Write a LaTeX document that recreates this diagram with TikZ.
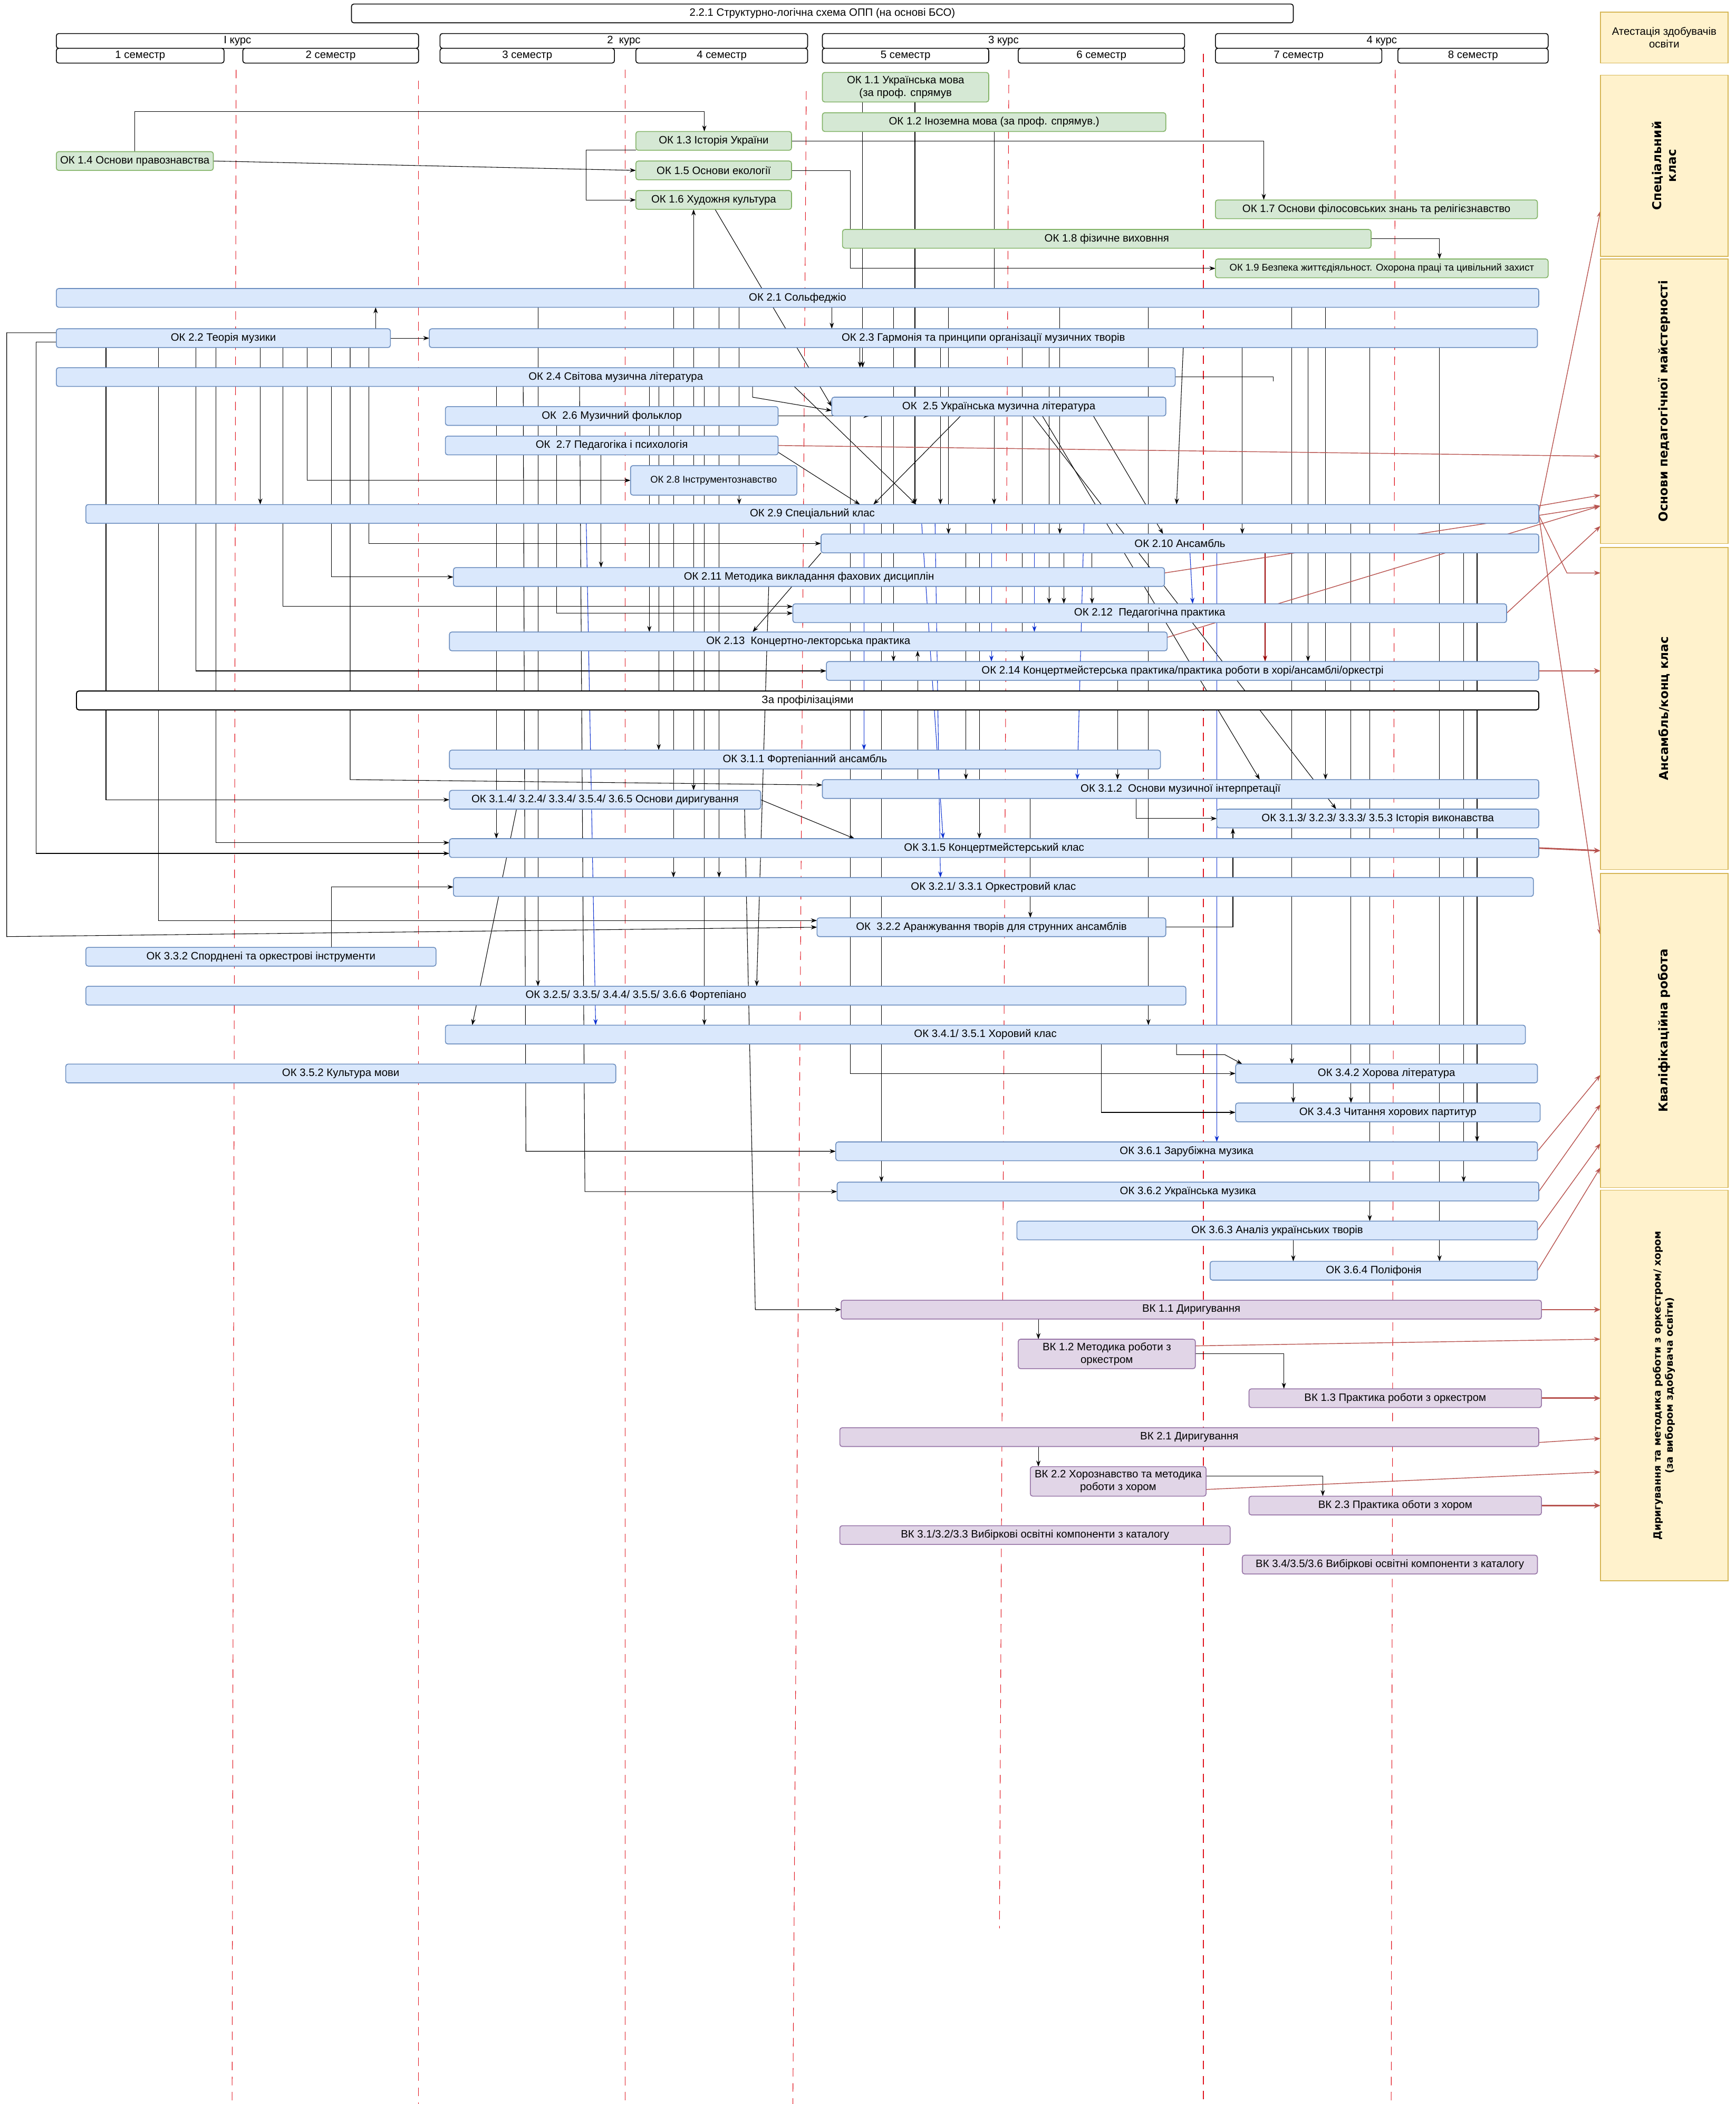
\documentclass[tikz,border=0pt]{standalone}
\usepackage{fontspec}
\setmainfont{Liberation Sans}
\newfontfamily\panelfont{DejaVu Sans}
\usetikzlibrary{arrows.meta,calc}
\definecolor{gfill}{HTML}{D5E8D4}
\definecolor{gdraw}{HTML}{82B366}
\definecolor{bfill}{HTML}{DAE8FC}
\definecolor{bdraw}{HTML}{6C8EBF}
\definecolor{pfill}{HTML}{E1D5E7}
\definecolor{pdraw}{HTML}{9673A6}
\definecolor{yfill}{HTML}{FFF2CC}
\definecolor{ydraw}{HTML}{D6B656}
\definecolor{rline}{HTML}{B85450}
\definecolor{bline}{HTML}{0A2FD0}
\definecolor{drline}{HTML}{990000}
\definecolor{dashred}{HTML}{E0141E}
\pgfdeclarelayer{bg}
\pgfsetlayers{bg,main}
\tikzset{
 nbase/.style={inner sep=0pt, outer sep=0pt, align=center, rounded corners=2.5pt, line width=0.9pt, font=\fontsize{11.4}{13.5}\selectfont},
 hdr/.style={nbase, draw=black, fill=white},
 gbox/.style={nbase, draw=gdraw, fill=gfill},
 bbox/.style={nbase, draw=bdraw, fill=bfill},
 pbox/.style={nbase, draw=pdraw, fill=pfill},
 ybox/.style={nbase, draw=ydraw, fill=yfill, rounded corners=0pt},
 small/.style={font=\fontsize{10.3}{12}\selectfont},
 conn/.style={draw=black, line width=0.6pt, -{Stealth[length=6.5pt,width=4.5pt]}},
 pline/.style={draw=black, line width=0.6pt},
 bconn/.style={draw=bline, line width=0.6pt, -{Stealth[length=6.5pt,width=4.5pt]}},
 drconn/.style={draw=drline, line width=0.7pt, -{Stealth[length=6.5pt,width=4.5pt]}},
 rconn/.style={draw=rline, line width=0.8pt, -{Stealth[length=7pt,width=5pt]}},
 rconnT/.style={draw=rline, line width=1.6pt, -{Stealth[length=7pt,width=6pt]}},
 vdash/.style={draw=dashred, line width=0.6pt, dash pattern=on 9pt off 7pt},
 ptext/.style={rotate=90, align=center, font=\panelfont\bfseries\fontsize{12.9}{15.5}\selectfont},
}
\newcommand\Bx[7]{\node[#1, anchor=north west, minimum width={(#5-#3)*0.05cm}, minimum height={(#6-#4)*0.05cm}] (#2) at (#3,#4) {#7};}
\newcommand\Q[1]{\coordinate (q#1) at (#1,0);}
\newcommand\VV[4][conn]{\coordinate (q#2) at (#2,0); \draw[#1] (#3.south -| q#2) -- (#4.north -| q#2);}
\begin{document}
\begin{tikzpicture}[x=0.05cm,y=-0.05cm]
\useasboundingbox (0,0) rectangle (1294,1568);
% ---------- headers
\Bx{hdr}{title}{262}{3}{964}{17}{2.2.1 Структурно-логічна схема ОПП (на основі БСО)}
\Bx{hdr}{k1}{42}{25}{312}{36}{І курс}
\Bx{hdr}{s1}{42}{36}{167}{47}{1 семестр}
\Bx{hdr}{s2}{181}{36}{312}{47}{2 семестр}
\Bx{hdr}{k2}{328}{25}{602}{36}{2~ курс}
\Bx{hdr}{s3}{328}{36}{458}{47}{3 семестр}
\Bx{hdr}{s4}{474}{36}{602}{47}{4 семестр}
\Bx{hdr}{k3}{613}{25}{883}{36}{3 курс}
\Bx{hdr}{s5}{613}{36}{737}{47}{5 семестр}
\Bx{hdr}{s6}{759}{36}{883}{47}{6 семестр}
\Bx{hdr}{k4}{906}{25}{1154}{36}{4 курс}
\Bx{hdr}{s7}{906}{36}{1030}{47}{7 семестр}
\Bx{hdr}{s8}{1042}{36}{1154}{47}{8 семестр}
\Bx{ybox}{att}{1193}{9}{1288}{47}{Атестація здобувачів\\освіти}
% ---------- right panel
\Bx{ybox}{r1}{1193}{56}{1288}{191}{}
\Bx{ybox}{r2}{1193}{193}{1288}{405}{}
\Bx{ybox}{r3}{1193}{408}{1288}{648}{}
\Bx{ybox}{r4}{1193}{651}{1288}{885}{}
\Bx{ybox}{r5}{1193}{887}{1288}{1178}{}
\node[ptext] (t1) at (r1.center) {Спеціальний\\клас};
\node[ptext] (t2) at (r2.center) {Основи педагогічної майстерності};
\node[ptext] (t3) at (r3.center) {Ансамбль/конц клас};
\node[ptext] (t4) at (r4.center) {Кваліфікаційна робота};
\node[ptext, font=\panelfont\bfseries\fontsize{10.5}{13}\selectfont] (t5) at (r5.center) {Диригування та методика роботи з оркестром/ хором\\(за вибором здобувача освіти)};
% ---------- green
\Bx{gbox}{n11}{613}{54}{737}{76}{ОК 1.1 Українська мова\\(за проф. спрямув}
\Bx{gbox}{n12}{613}{84}{869}{98}{ОК 1.2 Іноземна мова (за проф. спрямув.)}
\Bx{gbox}{n13}{474}{98}{590}{112}{ОК 1.3 Історія України}
\Bx{gbox}{n14}{42}{113}{159}{127}{ОК 1.4 Основи правознавства}
\Bx{gbox}{n15}{474}{120}{590}{134}{ОК 1.5 Основи екології}
\Bx{gbox}{n16}{474}{142}{590}{156}{ОК 1.6 Художня культура}
\Bx{gbox}{n17}{906}{149}{1146}{163}{ОК 1.7 Основи філосовських знань та релігієзнавство}
\Bx{gbox}{n18}{628}{171}{1022}{185}{ОК 1.8 фізичне виховння}
\Bx{gbox,small}{n19}{906}{193}{1154}{207}{ОК 1.9 Безпека життєдіяльност. Охорона праці та цивільний захист}
% ---------- blue
\Bx{bbox}{n21}{42}{215}{1147}{229}{ОК 2.1 Сольфеджіо}
\Bx{bbox}{n22}{42}{245}{291}{259}{ОК 2.2 Теорія музики}
\Bx{bbox}{n23}{320}{245}{1146}{259}{ОК 2.3 Гармонія та принципи організації музичних творів}
\Bx{bbox}{n24}{42}{274}{876}{288}{ОК 2.4 Світова музична література}
\Bx{bbox}{n25}{620}{296}{869}{310}{ОК~ 2.5 Українська музична література}
\Bx{bbox}{n26}{332}{303}{580}{317}{ОК~ 2.6 Музичний фольклор}
\Bx{bbox}{n27}{332}{325}{580}{339}{ОК~ 2.7 Педагогіка і психологія}
\Bx{bbox,small}{n28}{470}{347}{594}{369}{ОК 2.8 Інструментознавство}
\Bx{bbox}{n29}{64}{376}{1147}{390}{ОК 2.9 Спеціальний клас}
\Bx{bbox}{n210}{612}{398}{1147}{412}{ОК 2.10 Ансамбль}
\Bx{bbox}{n211}{338}{423}{868}{437}{ОК 2.11 Методика викладання фахових дисциплін}
\Bx{bbox}{n212}{591}{450}{1123}{464}{ОК 2.12~ Педагогічна практика}
\Bx{bbox}{n213}{335}{471}{870}{485}{ОК 2.13~ Концертно-лекторська практика}
\Bx{bbox}{n214}{616}{493}{1147}{507}{ОК 2.14 Концертмейстерська практика/практика роботи в хорі/ансамблі/оркестрі}
\Bx{hdr,line width=1.1pt}{nprof}{57}{515}{1147}{529}{За профілізаціями}
\Bx{bbox}{n311}{335}{559}{865}{573}{ОК 3.1.1 Фортепіанний ансамбль}
\Bx{bbox}{n312}{613}{581}{1147}{595}{ОК 3.1.2~ Основи музичної інтерпретації}
\Bx{bbox}{n314}{335}{589}{567}{603}{ОК 3.1.4/ 3.2.4/ 3.3.4/ 3.5.4/ 3.6.5 Основи диригування}
\Bx{bbox}{n313}{907}{603}{1147}{617}{ОК 3.1.3/ 3.2.3/ 3.3.3/ 3.5.3 Історія виконавства}
\Bx{bbox}{n315}{335}{625}{1147}{639}{ОК 3.1.5 Концертмейстерський клас}
\Bx{bbox}{n321}{338}{654}{1143}{668}{ОК 3.2.1/ 3.3.1 Оркестровий клас}
\Bx{bbox}{n322}{609}{684}{869}{698}{ОК~ 3.2.2 Аранжування творів для струнних ансамблів}
\Bx{bbox}{n332}{64}{706}{325}{720}{ОК 3.3.2 Спорднені та оркестрові інструменти}
\Bx{bbox}{n325}{64}{735}{884}{749}{ОК 3.2.5/ 3.3.5/ 3.4.4/ 3.5.5/ 3.6.6 Фортепіано}
\Bx{bbox}{n341}{332}{764}{1137}{778}{ОК 3.4.1/ 3.5.1 Хоровий клас}
\Bx{bbox}{n352}{49}{793}{459}{807}{ОК 3.5.2 Культура мови}
\Bx{bbox}{n342}{921}{793}{1146}{807}{ОК 3.4.2 Хорова література}
\Bx{bbox}{n343}{921}{822}{1148}{836}{ОК 3.4.3 Читання хорових партитур}
\Bx{bbox}{n361}{623}{851}{1146}{865}{ОК 3.6.1 Зарубіжна музика}
\Bx{bbox}{n362}{624}{881}{1147}{895}{ОК 3.6.2 Українська музика}
\Bx{bbox}{n363}{758}{910}{1146}{924}{ОК 3.6.3 Аналіз українських творів}
\Bx{bbox}{n364}{902}{940}{1146}{954}{ОК 3.6.4 Поліфонія}
% ---------- purple
\Bx{pbox}{vk11}{627}{969}{1149}{983}{ВК 1.1 Диригування}
\Bx{pbox}{vk12}{759}{998}{891}{1020}{ВК 1.2 Методика роботи з\\оркестром}
\Bx{pbox}{vk13}{931}{1035}{1149}{1049}{ВК 1.3 Практика роботи з оркестром}
\Bx{pbox}{vk21}{626}{1064}{1147}{1078}{ВК 2.1 Диригування}
\Bx{pbox}{vk22}{768}{1093}{899}{1115}{ВК 2.2 Хорознавство та методика\\роботи з хором}
\Bx{pbox}{vk23}{931}{1115}{1149}{1129}{ВК 2.3 Практика оботи з хором}
\Bx{pbox}{vk31}{626}{1137}{917}{1151}{ВК 3.1/3.2/3.3 Вибіркові освітні компоненти з каталогу}
\Bx{pbox}{vk34}{926}{1159}{1146}{1173}{ВК 3.4/3.5/3.6 Вибіркові освітні компоненти з каталогу}
% ================= connectors (behind nodes)
\begin{pgfonlayer}{bg}
\draw[vdash] (176,52) -- (173,1568);
\draw[vdash] (312,60) -- (312,1568);
\draw[vdash] (466,52) -- (466,1568);
\draw[vdash] (601,68) -- (591,1568);
\draw[vdash] (752,52) -- (745,1437);
\draw[vdash] (897,40) -- (897,1568);
\draw[vdash] (1040,52) -- (1037,1568);
% --- general block
\Q{525}\Q{942}\Q{1073}\Q{517}\Q{533}
\draw[conn] (n14.north) -- (100.5,83) -- (525,83) -- (n13.north -| q525);
\draw[conn] (n14.east) -- (n15.west);
\draw[conn] (n13.south west) -- (437,112) -- (437,149) -- (n16.west);
\draw[conn] (n13.east) -- (942,105) -- (n17.north -| q942);
\draw[conn] (n15.east) -- (634,127) -- (634,200) -- (n19.west);
\draw[conn] (n18.east) -- (1073,178) -- (n19.north -| q1073);
\draw[conn] (n21.north -| q517) -- (n16.south -| q517);
\draw[conn] (n16.south -| q533) -- (n25.west);
\VV{643}{n11}{n24}
\VV{682}{n11}{n29}
\VV[pline]{741}{n12}{n21}
% --- OK 2.2
\Q{280}\Q{79}\Q{118}\Q{146}\Q{161}\Q{211}\Q{229}\Q{247}\Q{261}\Q{275}
\draw[conn] (n22.east) -- (n23.west);
\draw[conn] (n22.north -| q280) -- (n21.south -| q280);
\draw[conn] (n22.south -| q79) -- (79,596) -- (n314.west);
\draw[conn] (n22.south -| q118) -- (118,686) -- ($(n322.north west)+(0,2)$);
\draw[conn] (n22.south -| q146) -- (146,500) -- (n214.west);
\draw[conn] (n22.south -| q161) -- (161,628) -- ($(n315.west)+(0,-4)$);
\VV{194}{n22}{n29}
\draw[conn] (n22.south -| q211) -- (211,452) -- ($(n212.west)+(0,-5)$);
\draw[conn] (n22.south -| q229) -- (229,358) -- (n28.west);
\draw[conn] (n22.south -| q247) -- (247,430) -- (n211.west);
\draw[conn] (n22.south -| q261) -- (261,581) -- ($(n312.west)+(0,-3)$);
\draw[conn] (n22.south -| q275) -- (275,405) -- (n210.west);
\draw[conn] ($(n22.west)+(0,-4)$) -- (5,248) -- (5,698) -- (n322.west);
\draw[conn] ($(n22.west)+(0,3)$) -- (27,255) -- (27,636) -- ($(n315.west)+(0,4)$);
% --- from OK 2.1
\VV{620}{n21}{n23}
\VV{401}{n21}{n325}
\VV{502}{n21}{n321}
\VV{517}{n21}{n314}
\VV{536}{n21}{n321}
\VV[pline]{551}{n21}{n28}
\VV{666}{n21}{n214}
\VV{707}{n21}{n210}
\VV{790}{n21}{n210}
\VV{856}{n21}{n341}
\VV{963}{n21}{n342}
\VV{988}{n21}{n312}
% --- from OK 2.3
\VV{641}{n23}{n24}
\VV{701}{n23}{n29}
\VV{762}{n23}{n214}
\VV{782}{n23}{n212}
\Q{882}\Q{877}
\draw[conn] (n23.south -| q882) -- (n29.north -| q877);
\VV{926}{n23}{n210}
\VV{975}{n23}{n214}
\VV{1021}{n23}{n363}
\VV{1073}{n23}{n364}
% --- from OK 2.4 .. 2.8
\VV{370}{n24}{n315}
\Q{390}\Q{415}\Q{432}\Q{561}\Q{592}\Q{683}
\draw[conn] (n24.south -| q390) -- (392,858) -- (n361.west);
\draw[conn] (n26.south -| q415) -- (415,457) -- (n212.west);
\draw[conn] (n24.south -| q432) -- (436,888) -- (n362.west);
\VV{448}{n27}{n211}
\VV{484}{n24}{n213}
\VV{491}{n24}{n311}
\VV{525}{n24}{n341}
\draw[conn] (n24.south -| q561) -- (561,296) -- ($(n25.west)+(0,3)$);
\draw[conn] (n24.south -| q592) -- (n29.north -| q683);
\draw[conn] (n26.east) -- ($(n25.south west)+(28,0)$);
\draw[pline] (n24.east) -- (949,281) -- (949,284);
\Q{641}
\draw[conn] ($(n27.south east)+(0,-2)$) -- (n29.north -| q641);
\VV{551}{n28}{n29}
% --- from OK 2.5
\Q{634}\Q{777}\Q{939}\Q{770}\Q{996}\Q{815}\Q{867}\Q{716}\Q{651}
\draw[conn] (n25.south -| q634) -- (634,800) -- (n342.west);
\VV{657}{n25}{n362}
\VV{741}{n25}{n29}
\draw[conn] (n25.south -| q777) -- (n312.north -| q939);
\draw[conn] (n25.south -| q770) -- (n313.north -| q996);
\draw[conn] (n25.south -| q815) -- (n210.north -| q867);
\draw[conn] (n25.south -| q716) -- (n29.north -| q651);
% --- blue
\Q{437}\Q{444}\Q{687}\Q{703}\Q{697}\Q{701}\Q{808}\Q{803}\Q{887}\Q{889}
\draw[bconn] (n29.south -| q437) -- (n341.north -| q444);
\VV[bconn]{644}{n29}{n311}
\draw[bconn] (n29.south -| q687) -- (n315.north -| q703);
\draw[bconn] (n29.south -| q697) -- (n321.north -| q701);
\VV[bconn]{739}{n29}{n214}
\VV[bconn]{771}{n29}{n213}
\draw[bconn] (n29.south -| q808) -- (n312.north -| q803);
\draw[bconn] (n210.south -| q887) -- (n212.north -| q889);
\VV[bconn]{907}{n210}{n361}
\VV[drconn]{943}{n210}{n214}
% --- lower block
\VV{793}{n210}{n212}
\VV{814}{n210}{n212}
\VV{720}{n29}{n312}
\VV{833}{n214}{n312}
\VV{730}{n210}{n315}
\VV{768}{n312}{n322}
\VV{1007}{n29}{n343}
\VV{1091}{n210}{n362}
\VV{1101}{n210}{n361}
\Q{847}\Q{919}\Q{561}\Q{684}\Q{573}\Q{564}\Q{385}\Q{352}\Q{637}\Q{555}
\draw[conn] (n312.south -| q847) -- (847,610) -- (n313.west);
\draw[conn] (n322.east) -- (919,691) -- (n313.south -| q919);
\draw[conn] (n210.south west) -- (n213.north -| q561);
\draw[conn] (n312.north -| q684) -- (n213.south -| q684);
\draw[conn] (n211.south -| q573) -- (n325.north -| q564);
\draw[conn] (n314.south -| q385) -- (n341.north -| q352);
\draw[conn] (n314.east) -- (n315.north -| q637);
\draw[conn] (n314.south -| q555) -- (563,976) -- (vk11.west);
\Q{247}
\draw[conn] (n332.north -| q247) -- (247,661) -- (n321.west);
\Q{926}\Q{821}
\draw[conn] (n341.south -| q877) -- (877,786) -- (913,786) -- (n342.north -| q926);
\draw[conn] (n341.south -| q821) -- (821,829) -- (n343.west);
\VV{964}{n342}{n343}
\VV{964}{n363}{n364}
% --- VK
\Q{957}\Q{986}
\VV{774}{vk11}{vk12}
\draw[conn] (vk12.east) -- (957,1009) -- (vk13.north -| q957);
\VV{774}{vk21}{vk22}
\draw[conn] ($(vk22.east)+(0,-4)$) -- (986,1100) -- (vk23.north -| q986);
% --- red to attestation panel
\draw[rconn] ($(n29.east)+(0,-1)$) -- ($(r1.south west)+(0,-34)$);
\draw[rconn] (n27.east) -- ($(r2.north west)+(0,147)$);
\draw[rconn] ($(n29.east)+(0,-6)$) -- ($(r2.north west)+(0,176)$);
\draw[rconn] ($(n211.east)+(0,-3)$) -- ($(r2.north west)+(0,184)$);
\draw[rconn] ($(n213.east)+(0,-3)$) -- ($(r2.north west)+(0,184)$);
\draw[rconn] (n212.east) -- ($(r2.north west)+(0,199)$);
\draw[rconn] ($(n29.east)+(0,1)$) -- (1168,427) -- ($(r3.north west)+(0,19)$);
\draw[rconnT] (n214.east) -- ($(r3.north west)+(0,92)$);
\draw[rconn] ($(n29.east)+(0,1)$) -- ($(r4.north west)+(0,46)$);
\draw[rconnT] (n315.east) -- ($(r3.south west)+(0,-14)$);
\draw[rconn] (n361.east) -- ($(r4.north west)+(0,150)$);
\draw[rconn] (n362.east) -- ($(r4.north west)+(0,172)$);
\draw[rconn] (n363.east) -- ($(r4.north west)+(0,201)$);
\draw[rconn] (n364.east) -- ($(r4.north west)+(0,219)$);
\draw[rconnT] (vk11.east) -- ($(r5.north west)+(0,89)$);
\draw[rconn] ($(vk12.east)+(0,-6)$) -- ($(r5.north west)+(0,111)$);
\draw[rconnT] (vk13.east) -- ($(r5.north west)+(0,155)$);
\draw[rconn] ($(vk21.east)+(0,4)$) -- ($(r5.north west)+(0,185)$);
\draw[rconn] ($(vk22.east)+(0,6)$) -- ($(r5.north west)+(0,210)$);
\draw[rconnT] (vk23.east) -- ($(r5.north west)+(0,235)$);
\end{pgfonlayer}
\end{tikzpicture}
\end{document}
